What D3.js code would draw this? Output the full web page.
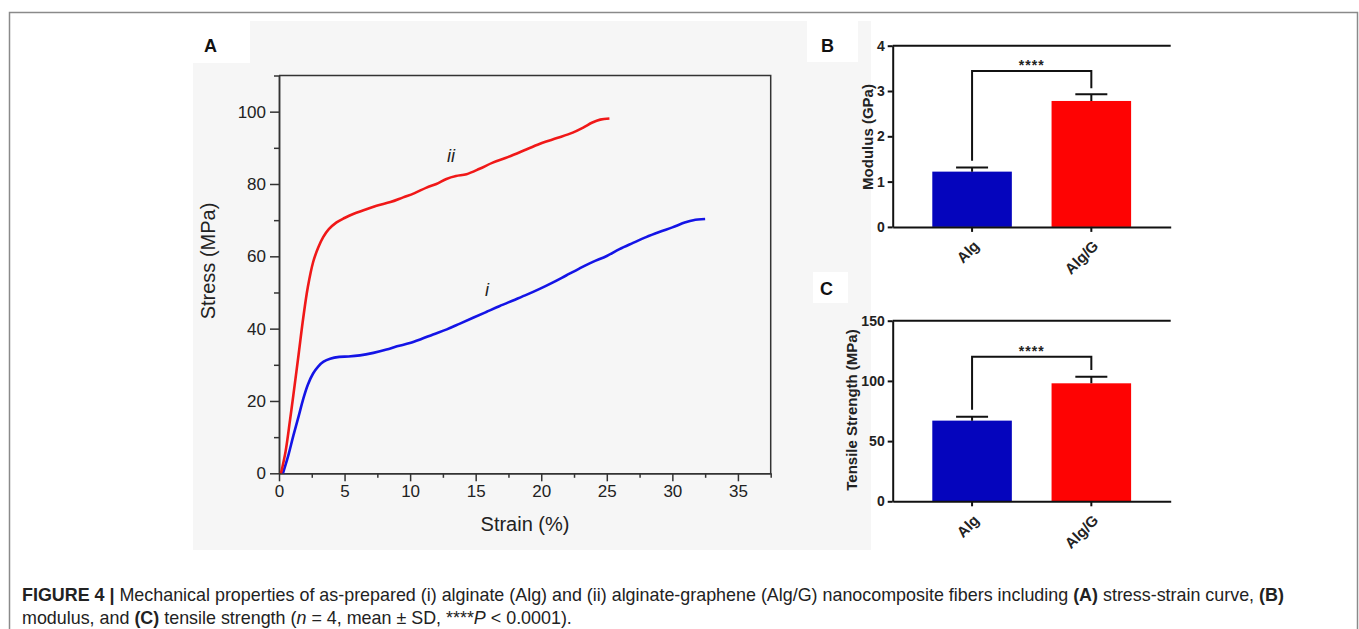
<!DOCTYPE html>
<html>
<head>
<meta charset="utf-8">
<script src="https://cdn.jsdelivr.net/npm/d3@7"></script>
<style>
  body { margin: 0; background: #fff; }
  svg { display: block; font-family: "Liberation Sans", Arial, sans-serif; }
</style>
</head>
<body>
<div class="chart"></div>
<script>
// stress-strain curves (strain %, stress MPa)
var algCurve = [[0.3,0],[0.7,4.8],[1.1,10.5],[1.5,15.8],[1.85,20.6],[2.2,24.5],[2.6,27.6],[3,29.6],[3.4,30.9],[3.9,31.7],[4.6,32.2],[5.3,32.3],[6.17,32.6],[7.2,33.3],[8.2,34.2],[9,35.1],[9.98,36],[10.9,37.2],[11.75,38.4],[12.8,39.8],[13.8,41.4],[14.8,43],[15.8,44.6],[16.8,46.2],[17.85,47.8],[18.9,49.4],[19.88,51],[20.9,52.8],[21.9,54.7],[22.9,56.6],[23.9,58.4],[25,60.1],[25.97,62],[27,63.7],[28,65.3],[29,66.7],[30,68],[31,69.4],[31.6,70],[32.5,70.3]];
var algGCurve = [[0.15,0],[0.5,6],[0.84,14.7],[1.09,21.5],[1.5,33],[1.85,43],[2.2,51.5],[2.61,58.5],[3,62.5],[3.37,65.3],[3.8,67.5],[4.39,69.4],[5,70.6],[5.66,71.7],[6.5,72.8],[7.44,74],[8.5,75],[9.47,76.3],[10.3,77.4],[11.25,79],[12,80],[12.77,81.4],[13.5,82.2],[14.3,82.7],[15.3,84.2],[16.3,85.9],[17.5,87.5],[18.9,89.6],[20.1,91.4],[21.2,92.7],[22.4,94.2],[23.2,95.6],[23.9,97],[24.5,97.8],[25.2,98.1]];

var strainTicks = [0, 5, 10, 15, 20, 25, 30, 35];
var strainMinor = [2.5, 7.5, 12.5, 17.5, 22.5, 27.5, 32.5, 37.5];
var stressTicks = [0, 20, 40, 60, 80, 100];
var stressMinor = [10, 30, 50, 70, 90, 110];

// bar panels
var groups = ["Alg", "Alg/G"];
var modulusMean = [1.22, 2.78];
var modulusSD = [0.09, 0.15];
var modulusTicks = [0, 1, 2, 3, 4];
var strengthMean = [67, 98];
var strengthSD = [3.3, 5.5];
var strengthTicks = [0, 50, 100, 150];

var barColors = ["#0505bd", "#fe0303"];

var svgWidth = 1359;
var svgHeight = 629;

var svg = d3
  .select(".chart")
  .append("svg")
  .attr("width", svgWidth)
  .attr("height", svgHeight);

// figure frame
svg.append("path")
  .attr("d", "M9.5,640 V12.5 H1357.5 V640")
  .attr("fill", "none")
  .attr("stroke", "#8a8a8a")
  .attr("stroke-width", 1.5);

// ---------- panel A ----------
svg.append("rect")
  .attr("x", 193).attr("y", 21)
  .attr("width", 610).attr("height", 529)
  .attr("fill", "#f6f6f6");
svg.append("rect")
  .attr("x", 193).attr("y", 21)
  .attr("width", 57).attr("height", 42)
  .attr("fill", "#fff");
svg.append("text")
  .attr("x", 204).attr("y", 51.5)
  .style("font-size", "18px").style("font-weight", "bold")
  .attr("fill", "#111")
  .text("A");

var xStrain = d3.scaleLinear().domain([0, 37.5]).range([279, 770.7]);
var yStress = d3.scaleLinear().domain([0, 110]).range([473.3, 75.5]);

var chartA = svg.append("g");

function styleAxis(g, color, width) {
  g.select(".domain").attr("stroke", color).attr("stroke-width", width);
  g.selectAll(".tick line").attr("stroke", color).attr("stroke-width", width);
  g.selectAll(".tick text").attr("fill", "#222");
}

var xMajor = chartA.append("g")
  .attr("transform", "translate(0," + yStress(0) + ")")
  .call(d3.axisBottom(xStrain).tickValues(strainTicks).tickSize(8).tickSizeOuter(0).tickPadding(4));
xMajor.selectAll("text").style("font-size", "17px");
styleAxis(xMajor, "#333", 1.5);

var xMin = chartA.append("g")
  .attr("transform", "translate(0," + yStress(0) + ")")
  .call(d3.axisBottom(xStrain).tickValues(strainMinor).tickSize(4.5).tickSizeOuter(0).tickFormat(""));
styleAxis(xMin, "#333", 1.5);

var yMajor = chartA.append("g")
  .attr("transform", "translate(" + xStrain(0) + ",0)")
  .call(d3.axisLeft(yStress).tickValues(stressTicks).tickSize(9).tickSizeOuter(0).tickPadding(4));
yMajor.selectAll("text").style("font-size", "17px");
styleAxis(yMajor, "#333", 1.5);

var yMin = chartA.append("g")
  .attr("transform", "translate(" + xStrain(0) + ",0)")
  .call(d3.axisLeft(yStress).tickValues(stressMinor).tickSize(5).tickSizeOuter(0).tickFormat(""));
styleAxis(yMin, "#333", 1.5);

// top and right frame
chartA.append("path")
  .attr("d", "M" + xStrain(0) + "," + yStress(110) + "H" + xStrain(37.5) + "V" + yStress(0))
  .attr("fill", "none")
  .attr("stroke", "#333")
  .attr("stroke-width", 1.5);

var line = d3.line()
  .x(function(d) { return xStrain(d[0]); })
  .y(function(d) { return yStress(d[1]); })
  .curve(d3.curveCatmullRom.alpha(0.5));

chartA.append("path")
  .datum(algCurve)
  .attr("d", line)
  .attr("fill", "none")
  .attr("stroke", "#1414e6")
  .attr("stroke-width", 2.6);

chartA.append("path")
  .datum(algGCurve)
  .attr("d", line)
  .attr("fill", "none")
  .attr("stroke", "#f01818")
  .attr("stroke-width", 2.6);

chartA.append("text")
  .attr("x", 451).attr("y", 162)
  .attr("text-anchor", "middle")
  .style("font-size", "18px").style("font-style", "italic")
  .attr("fill", "#222")
  .text("ii");
chartA.append("text")
  .attr("x", 487).attr("y", 296)
  .attr("text-anchor", "middle")
  .style("font-size", "18px").style("font-style", "italic")
  .attr("fill", "#222")
  .text("i");

chartA.append("text")
  .attr("transform", "translate(215,261) rotate(-90)")
  .attr("text-anchor", "middle")
  .style("font-size", "20px")
  .attr("fill", "#222")
  .text("Stress (MPa)");
chartA.append("text")
  .attr("x", 525).attr("y", 531)
  .attr("text-anchor", "middle")
  .style("font-size", "20px")
  .attr("fill", "#222")
  .text("Strain (%)");

// ---------- panels B and C ----------
svg.append("rect")
  .attr("x", 803).attr("y", 21)
  .attr("width", 68).attr("height", 529)
  .attr("fill", "#f6f6f6");

var xGroup = d3.scaleBand()
  .domain(groups)
  .range([892.7, 1170.7])
  .paddingInner(0.333)
  .paddingOuter(0.332);

function barPanel(letter, letterPos, boxPos, means, sds, ticks, yDomain, yRange, title, titlePos, bracket) {
  var g = svg.append("g");
  var y = d3.scaleLinear().domain(yDomain).range(yRange);

  g.append("rect")
    .attr("x", boxPos[0]).attr("y", boxPos[1])
    .attr("width", boxPos[2]).attr("height", boxPos[3])
    .attr("fill", "#fff");
  g.append("text")
    .attr("x", letterPos[0]).attr("y", letterPos[1])
    .style("font-size", "18px").style("font-weight", "bold")
    .attr("fill", "#111")
    .text(letter);

  g.selectAll(".bar")
    .data(means)
    .enter()
    .append("rect")
    .attr("class", "bar")
    .attr("x", function(d, i) { return xGroup(groups[i]); })
    .attr("y", function(d) { return y(d); })
    .attr("width", xGroup.bandwidth())
    .attr("height", function(d) { return y(0) - y(d); })
    .attr("fill", function(d, i) { return barColors[i]; });

  // upper error bars
  means.forEach(function(m, i) {
    var cx = xGroup(groups[i]) + xGroup.bandwidth() / 2;
    g.append("path")
      .attr("d", "M" + cx + "," + y(m) + "V" + y(m + sds[i]) + "M" + (cx - 16) + "," + y(m + sds[i]) + "H" + (cx + 16))
      .attr("fill", "none")
      .attr("stroke", "#111")
      .attr("stroke-width", 2);
  });

  // significance bracket
  var c0 = xGroup(groups[0]) + xGroup.bandwidth() / 2;
  var c1 = xGroup(groups[1]) + xGroup.bandwidth() / 2;
  g.append("path")
    .attr("d", "M" + c0 + "," + y(bracket[1]) + "V" + y(bracket[0]) + "H" + c1 + "V" + y(bracket[2]))
    .attr("fill", "none")
    .attr("stroke", "#111")
    .attr("stroke-width", 2);
  g.append("text")
    .attr("x", (c0 + c1) / 2).attr("y", y(bracket[0]) - 1)
    .attr("text-anchor", "middle")
    .style("font-size", "14px").style("font-weight", "bold")
    .style("letter-spacing", "1px")
    .attr("fill", "#222")
    .text("****");

  var yAxis = g.append("g")
    .attr("transform", "translate(" + 892.7 + ",0)")
    .call(d3.axisLeft(y).tickValues(ticks).tickFormat(d3.format("d")).tickSize(5).tickSizeOuter(0).tickPadding(3));
  yAxis.selectAll("text").style("font-size", "14px").style("font-weight", "bold");
  styleAxis(yAxis, "#111", 2);

  var xAxis = g.append("g")
    .attr("transform", "translate(0," + y(0) + ")")
    .call(d3.axisBottom(xGroup).tickSize(5).tickSizeOuter(0));
  styleAxis(xAxis, "#111", 2);
  xAxis.selectAll(".tick text")
    .style("font-size", "15px").style("font-weight", "bold")
    .attr("text-anchor", "end")
    .attr("y", 0)
    .attr("dy", 0)
    .attr("transform", "translate(8,20) rotate(-45)");

  // top line
  g.append("line")
    .attr("x1", 892.7).attr("x2", 1170.7)
    .attr("y1", y(yDomain[1])).attr("y2", y(yDomain[1]))
    .attr("stroke", "#111").attr("stroke-width", 2);

  g.append("text")
    .attr("transform", "translate(" + titlePos[0] + "," + titlePos[1] + ") rotate(-90)")
    .attr("text-anchor", "middle")
    .style("font-size", "15px").style("font-weight", "bold")
    .attr("fill", "#222")
    .text(title);
}

barPanel("B", [821, 51.7], [807, 21, 51, 41], modulusMean, modulusSD, modulusTicks,
  [0, 4], [226.9, 45.7], "Modulus (GPa)", [873, 137], [3.44, 1.46, 3.06]);
barPanel("C", [820, 295], [813, 272, 35, 31], strengthMean, strengthSD, strengthTicks,
  [0, 150], [501.3, 320.7], "Tensile Strength (MPa)", [857, 410], [120, 76, 109]);

// ---------- caption ----------
var cap1 = svg.append("text")
  .attr("x", 22).attr("y", 601)
  .style("font-size", "17.9px")
  .attr("fill", "#222");
cap1.append("tspan").style("font-weight", "bold").text("FIGURE 4 | ");
cap1.append("tspan").text("Mechanical properties of as-prepared (i) alginate (Alg) and (ii) alginate-graphene (Alg/G) nanocomposite fibers including ");
cap1.append("tspan").style("font-weight", "bold").text("(A)");
cap1.append("tspan").text(" stress-strain curve, ");
cap1.append("tspan").style("font-weight", "bold").text("(B)");

var cap2 = svg.append("text")
  .attr("x", 22).attr("y", 624)
  .style("font-size", "17.9px")
  .attr("fill", "#222");
cap2.append("tspan").text("modulus, and ");
cap2.append("tspan").style("font-weight", "bold").text("(C)");
cap2.append("tspan").text(" tensile strength (");
cap2.append("tspan").style("font-style", "italic").text("n");
cap2.append("tspan").text(" = 4, mean \u00b1 SD, ****");
cap2.append("tspan").style("font-style", "italic").text("P");
cap2.append("tspan").text(" < 0.0001).");
</script>
</body>
</html>
